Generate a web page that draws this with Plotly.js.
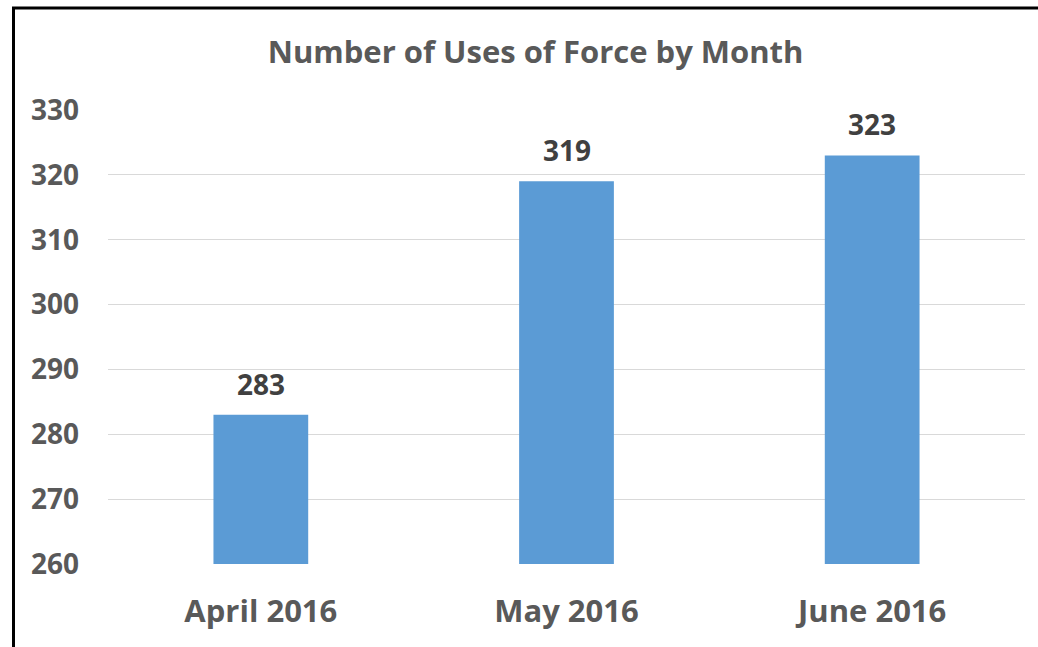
<!DOCTYPE html>
<html>
<head>
<meta charset="utf-8">
<script src="https://cdn.plot.ly/plotly-3.0.1.min.js"></script>
<style>
  html, body { margin: 0; padding: 0; background: #ffffff; }
  #chart { width: 1038px; height: 647px; }
</style>
</head>
<body>
<div id="chart"></div>
<script>
const months = ["April 2016", "May 2016", "June 2016"];
const usesOfForce = [283, 319, 323];
const yTicks = [260, 270, 280, 290, 300, 310, 320, 330];

const M = { l: 108, r: 13, t: 110, b: 83 };
const W = 1038, H = 647;
const pw = W - M.l - M.r, ph = H - M.t - M.b;
const px2x = p => (p - M.l) / pw;
const py2y = p => (H - M.b - p) / ph;

const font = "'Open Sans', 'DejaVu Sans', sans-serif";

const trace = {
  type: "bar",
  x: months,
  y: usesOfForce,
  marker: { color: "#5B9BD5" },
  hoverinfo: "x+y"
};

const annotations = months.map((m, i) => ({
  x: m, y: usesOfForce[i], xref: "x", yref: "y",
  text: String(usesOfForce[i]),
  showarrow: false, yanchor: "middle", yshift: 31,
  font: { family: font, size: 28, color: "#404040", weight: "bold" }
}));

const layout = {
  width: W, height: H,
  margin: M,
  paper_bgcolor: "#ffffff",
  plot_bgcolor: "#ffffff",
  bargap: 0.69,
  showlegend: false,
  title: {
    text: "Number of Uses of Force by Month",
    x: 0.516, xanchor: "center", xref: "container",
    y: 1 - 52 / H, yanchor: "middle", yref: "container",
    font: { family: font, size: 31, color: "#595959", weight: "bold" }
  },
  xaxis: {
    type: "category",
    showgrid: false, showline: false, zeroline: false,
    ticks: "",
    ticklabelstandoff: 26,
    tickfont: { family: font, size: 31, color: "#595959", weight: "bold" }
  },
  yaxis: {
    range: [260, 330],
    tickvals: yTicks,
    ticktext: yTicks.map(String),
    showgrid: true, gridcolor: "#d9d9d9", gridwidth: 1,
    showline: false, zeroline: false,
    ticks: "",
    ticklabelstandoff: 28,
    tickfont: { family: font, size: 28, color: "#595959", weight: "bold" }
  },
  annotations: annotations,
  shapes: [
    { type: "line", xref: "paper", yref: "paper",
      x0: px2x(13.5), x1: px2x(13.5), y0: py2y(7), y1: py2y(660),
      line: { color: "#000000", width: 3 } },
    { type: "line", xref: "paper", yref: "paper",
      x0: px2x(12), x1: px2x(1050), y0: py2y(8), y1: py2y(8),
      line: { color: "#000000", width: 3 } }
  ]
};

Plotly.newPlot("chart", [trace], layout, { displayModeBar: false, responsive: false });
</script>
</body>
</html>
